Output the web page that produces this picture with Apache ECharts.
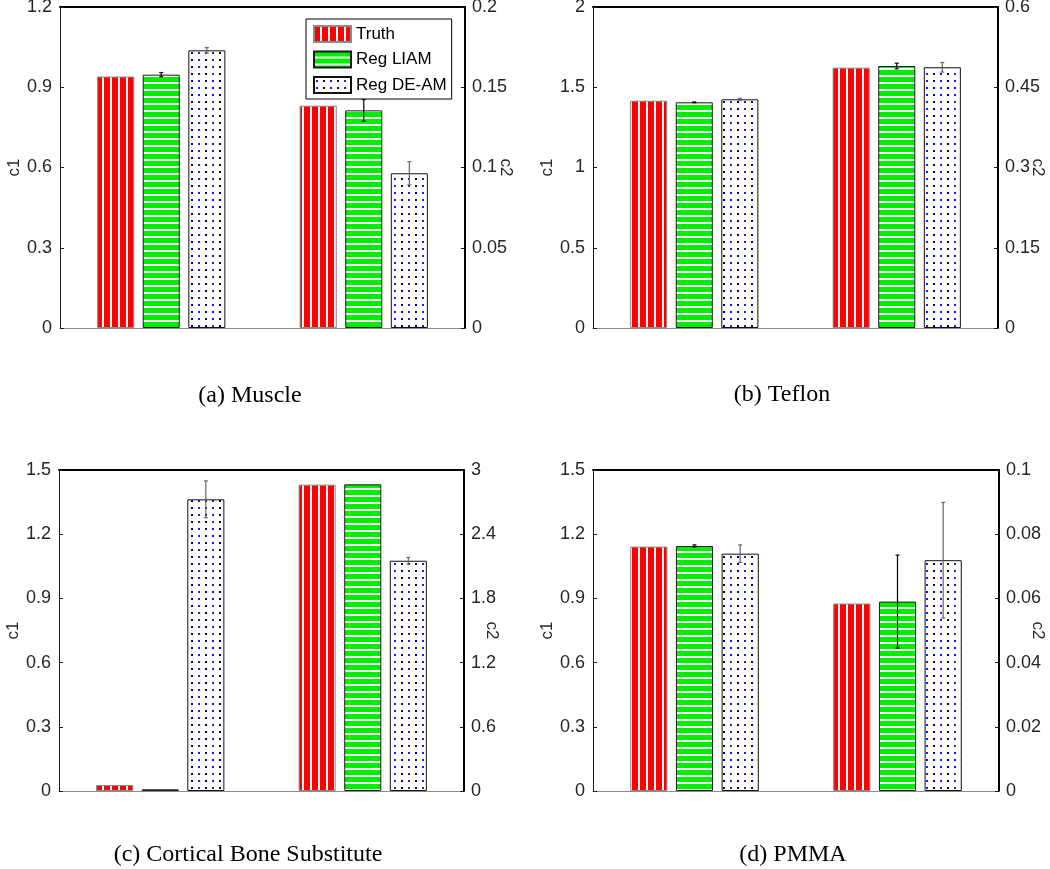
<!DOCTYPE html>
<html><head><meta charset="utf-8">
<script src="https://cdn.jsdelivr.net/npm/echarts@6/dist/echarts.min.js"></script>
<style>html,body{margin:0;padding:0;background:#fff}#chart{width:1050px;height:869px}</style>
</head><body><div id="chart"></div>
<script>
// ---------- data ----------
const categories = ['c1', 'c2'];
const methods = ['Truth', 'Reg LIAM', 'Reg DE-AM'];
const captions = ['(a) Muscle', '(b) Teflon', '(c) Cortical Bone Substitute', '(d) PMMA'];

const muscleC1 = [0.940, 0.947, 1.038];
const muscleC1Err = [0, 0.008, 0.010];
const muscleC2 = [0.1385, 0.1356, 0.0964];
const muscleC2Err = [0, 0.0067, 0.0072];

const teflonC1 = [1.416, 1.406, 1.425];
const teflonC1Err = [0, 0.002, 0.006];
const teflonC2 = [0.4866, 0.4897, 0.4873];
const teflonC2Err = [0, 0.0053, 0.009];

const boneC1 = [0.028, 0.008, 1.363];
const boneC1Err = [0, 0, 0.086];
const boneC2 = [2.863, 2.866, 2.152];
const boneC2Err = [0, 0, 0.031];

const pmmaC1 = [1.142, 1.145, 1.109];
const pmmaC1Err = [0, 0.005, 0.041];
const pmmaC2 = [0.0584, 0.0590, 0.0719];
const pmmaC2Err = [0, 0.0145, 0.018];

// axis ranges [min, max, interval]
const c1Axes = [[0, 1.2, 0.3], [0, 2, 0.5], [0, 1.5, 0.3], [0, 1.5, 0.3]];
const c2Axes = [[0, 0.2, 0.05], [0, 0.6, 0.15], [0, 3, 0.6], [0, 0.1, 0.02]];

const panelData = [
  [muscleC1, muscleC1Err, muscleC2, muscleC2Err],
  [teflonC1, teflonC1Err, teflonC2, teflonC2Err],
  [boneC1, boneC1Err, boneC2, boneC2Err],
  [pmmaC1, pmmaC1Err, pmmaC2, pmmaC2Err]
];

// ---------- layout / style ----------
const grids = [
  {left: 60, top: 7, width: 405, height: 321},
  {left: 593, top: 7, width: 405, height: 321},
  {left: 59, top: 470, width: 405, height: 321},
  {left: 593, top: 470, width: 406, height: 321}
];
const c2NameGaps = [32, 31, 19, 30];
const captionPos = [[250, 396], [782, 395], [248, 855], [793, 855]];
const BAR_FRAC = 0.183;
const GAP_FRAC = 0.23;

function makePattern(kind) {
  const c = document.createElement('canvas');
  const ctx = c.getContext('2d');
  if (kind === 'red') {
    c.width = 8; c.height = 8;
    ctx.fillStyle = '#ff0000'; ctx.fillRect(0, 0, 8, 8);
    ctx.fillStyle = '#ffffff'; ctx.fillRect(6, 0, 2, 8);
  } else if (kind === 'green') {
    c.width = 8; c.height = 7;
    ctx.fillStyle = '#00ee00'; ctx.fillRect(0, 0, 8, 7);
    ctx.fillStyle = '#ffffff'; ctx.fillRect(0, 5, 8, 2);
  } else {
    c.width = 14; c.height = 7;
    ctx.fillStyle = '#ffffff'; ctx.fillRect(0, 0, 14, 7);
    ctx.fillStyle = '#1a1aff'; ctx.fillRect(2, 3, 2, 2);
    ctx.fillStyle = '#000080'; ctx.fillRect(9, 3, 2, 2);
  }
  return {image: c, repeat: 'repeat'};
}
const fills = [makePattern('red'), makePattern('green'), makePattern('blue')];
const borders = ['#8a8a8a', '#1a1a1a', '#111111'];
const errColors = ['#000000', '#000000', '#666666'];

const axisTextColor = '#262626';
const sansFont = 'Liberation Sans, Arial, sans-serif';

const grid = [], xAxis = [], yAxis = [], series = [];

function errorRender(params, api) {
  const cat = api.value(0), k = api.value(1), v = api.value(2), e = api.value(3);
  if (!e) return null;
  const band = api.size([1, 0])[0];
  const bw = band * BAR_FRAC;
  const pitch = bw * (1 + GAP_FRAC);
  const cx = api.coord([cat, v])[0] + (k - 1) * pitch;
  const yTop = api.coord([cat, v + e])[1];
  const yBot = api.coord([cat, v - e])[1];
  const col = errColors[k];
  const st = {stroke: col, lineWidth: 1.2};
  return {
    type: 'group',
    children: [
      {type: 'line', shape: {x1: cx, y1: yTop, x2: cx, y2: yBot}, style: st},
      {type: 'line', shape: {x1: cx - 2, y1: yTop, x2: cx + 2, y2: yTop}, style: st},
      {type: 'line', shape: {x1: cx - 2, y1: yBot, x2: cx + 2, y2: yBot}, style: st}
    ]
  };
}

for (let p = 0; p < 4; p++) {
  grid.push(Object.assign({containLabel: false, outerBoundsMode: 'none'}, grids[p]));
  // bottom category axis (c1 group)
  xAxis.push({
    type: 'category', gridIndex: p, data: categories, position: 'bottom',
    axisLine: {onZero: false, lineStyle: {color: '#8c8c8c', width: 1}},
    axisTick: {show: false}, axisLabel: {show: false}, splitLine: {show: false}
  });
  // top category axis (c2 group), draws top border
  xAxis.push({
    type: 'category', gridIndex: p, data: categories, position: 'top',
    axisLine: {onZero: false, lineStyle: {color: '#000', width: 2}},
    axisTick: {show: false}, axisLabel: {show: false}, splitLine: {show: false}
  });
  const a1 = c1Axes[p], a2 = c2Axes[p];
  yAxis.push({
    type: 'value', gridIndex: p, position: 'left', min: a1[0], max: a1[1], interval: a1[2],
    axisLine: {show: true, onZero: false, lineStyle: {color: '#1a1a1a', width: 1}},
    axisTick: {show: true, inside: true, length: 4, lineStyle: {color: '#1a1a1a'}},
    axisLabel: {margin: 8, fontSize: 18, color: axisTextColor, fontFamily: sansFont},
    splitLine: {show: false},
    name: 'c1', nameLocation: 'middle', nameRotate: 90, nameGap: 37, nameMoveOverlap: false,
    nameTextStyle: {fontSize: 17, color: axisTextColor, fontFamily: sansFont}
  });
  yAxis.push({
    type: 'value', gridIndex: p, position: 'right', min: a2[0], max: a2[1], interval: a2[2],
    axisLine: {show: true, onZero: false, lineStyle: {color: '#000', width: 2}},
    axisTick: {show: true, inside: true, length: 4, lineStyle: {color: '#1a1a1a'}},
    axisLabel: {margin: 7, fontSize: 18, color: axisTextColor, fontFamily: sansFont},
    splitLine: {show: false},
    name: 'c2', nameLocation: 'middle', nameRotate: -90, nameGap: c2NameGaps[p], nameMoveOverlap: false,
    nameTextStyle: {fontSize: 17, color: axisTextColor, fontFamily: sansFont}
  });

  const d = panelData[p];
  for (let s = 0; s < 2; s++) {
    const vals = d[s * 2], errs = d[s * 2 + 1];
    const axisIdx = p * 2 + s;
    for (let m = 0; m < 3; m++) {
      series.push({
        type: 'bar', name: methods[m], xAxisIndex: axisIdx, yAxisIndex: axisIdx,
        data: s === 0 ? [vals[m], '-'] : ['-', vals[m]],
        barWidth: (BAR_FRAC * 100) + '%', barGap: (GAP_FRAC * 100) + '%',
        itemStyle: {color: fills[m], borderColor: borders[m], borderWidth: 1},
        emphasis: {disabled: true}, silent: true
      });
    }
    const errData = [];
    for (let m = 0; m < 3; m++) errData.push([s, m, vals[m], errs[m]]);
    series.push({
      type: 'custom', xAxisIndex: axisIdx, yAxisIndex: axisIdx,
      data: errData, encode: {x: 0, y: 2}, renderItem: errorRender, z: 5, silent: true
    });
  }
}

const graphic = captions.map((t, i) => ({
  type: 'text', x: captionPos[i][0], y: captionPos[i][1],
  style: {text: t, font: '24px "Liberation Serif", "Times New Roman", serif', fill: '#000',
          textAlign: 'center', textVerticalAlign: 'middle'}
}));

const chart = echarts.init(document.getElementById('chart'), null, {renderer: 'canvas'});
chart.setOption({
  animation: false,
  backgroundColor: '#fff',
  grid, xAxis, yAxis, series, graphic,
  legend: {
    data: methods, orient: 'vertical', left: 306, top: 19,
    itemWidth: 37, itemHeight: 16, itemGap: 7.5, padding: [6, 5, 5, 7],
    borderColor: '#000', borderWidth: 1, backgroundColor: '#fff',
    selectedMode: false, icon: 'rect',
    textStyle: {fontSize: 17, lineHeight: 16, color: '#000', fontFamily: sansFont, padding: [0, 0, 0, 0]}
  },
  tooltip: {show: false}
});
</script></body></html>
